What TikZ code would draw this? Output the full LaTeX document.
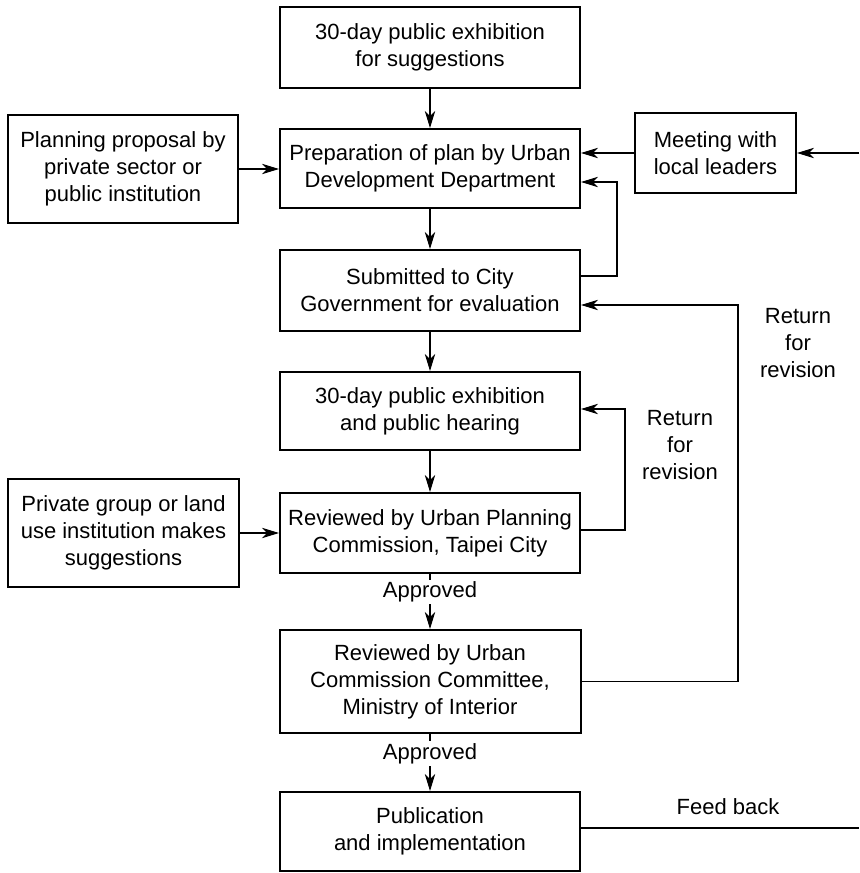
\documentclass[tikz,border=0pt]{standalone}
\usepackage{fontspec}
\setmainfont{Liberation Sans}
\usetikzlibrary{arrows.meta}
\begin{document}
\begin{tikzpicture}[x=0.5pt,y=-0.5pt,
  box/.style={draw, line width=1pt, rectangle, align=center, inner sep=0pt, font=\fontsize{11}{13.5}\selectfont},
  lbl/.style={align=center, inner sep=1pt, font=\fontsize{11}{13.5}\selectfont},
  conn/.style={line width=0.55pt, -{Stealth[length=8.5pt,width=5.2pt,inset=2.6pt]}},
  plain/.style={line width=0.55pt}]
\useasboundingbox (0,0) rectangle (859,873);
% main column
\node[box, minimum width=150pt, minimum height=40.5pt] (b1) at (430,47.5) {30-day public exhibition\\for suggestions};
\node[box, minimum width=150pt, minimum height=39.5pt] (b2) at (430,168.5) {Preparation of plan by Urban\\Development Department};
\node[box, minimum width=150pt, minimum height=40.5pt] (b3) at (430,290.5) {Submitted to City\\Government for evaluation};
\node[box, minimum width=150pt, minimum height=39pt] (b4) at (430,411) {30-day public exhibition\\and public hearing};
\node[box, minimum width=150pt, minimum height=40pt] (b5) at (430,533) {Reviewed by Urban Planning\\Commission, Taipei City};
\node[box, minimum width=150.5pt, minimum height=51.5pt] (b6) at (430,681.5) {Reviewed by Urban\\Commission Committee,\\Ministry of Interior};
\node[box, minimum width=150pt, minimum height=39.5pt] (b7) at (430,831.5) {Publication\\and implementation};
% side boxes
\node[box, minimum width=115pt, minimum height=54pt] (plan) at (123,169) {Planning proposal by\\private sector or\\public institution};
\node[box, minimum width=115.5pt, minimum height=54pt] (priv) at (123.5,533) {Private group or land\\use institution makes\\suggestions};
\node[box, minimum width=80.5pt, minimum height=40pt] (meet) at (715.5,153) {Meeting with\\local leaders};
% labels
\node[lbl] (ret1) at (798,343) {Return\\for\\revision};
\node[lbl] (ret2) at (680,445) {Return\\for\\revision};
\node[lbl] (fb) at (728,807) {Feed back};
% coordinates
\coordinate (rin) at (859,153);
\coordinate (l1a) at (617,276);
\coordinate (l1b) at (617,182);
\coordinate (l2a) at (738,681.5);
\coordinate (l2b) at (738,305);
\coordinate (l3a) at (625,530);
\coordinate (l3b) at (625,409);
\coordinate (fbend) at (859,828);
% connectors
\draw[conn] (b1) -- (b2);
\draw[conn] (b2) -- (b3);
\draw[conn] (b3) -- (b4);
\draw[conn] (b4) -- (b5);
\draw[conn] (b5) -- node[lbl, fill=white, pos=0.33] {Approved} (b6);
\draw[conn] (b6) -- node[lbl, fill=white, pos=0.34] {Approved} (b7);
\draw[conn] (plan.east) -- (b2.west |- plan.east);
\draw[conn] (priv.east) -- (b5.west |- priv.east);
\draw[conn] (meet.west) -- (b2.east |- meet.west);
\draw[conn] (rin) -- (meet.east);
\draw[conn] (b3.east |- l1a) -- (l1a) -- (l1b) -- (b2.east |- l1b);
\draw[conn] (b6.east) -- (l2a) -- (l2b) -- (b3.east |- l2b);
\draw[conn] (b5.east |- l3a) -- (l3a) -- (l3b) -- (b4.east |- l3b);
\draw[plain] (b7.east |- fbend) -- (fbend);
\end{tikzpicture}
\end{document}
